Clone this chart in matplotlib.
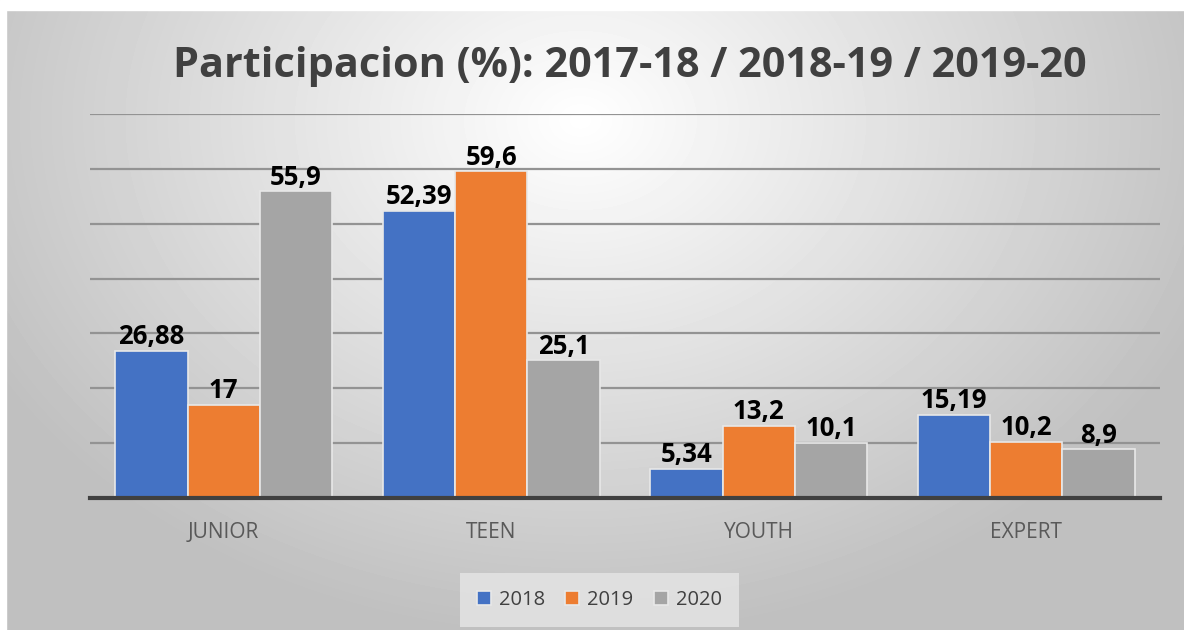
import numpy as np
import matplotlib.pyplot as plt

categories = ['JUNIOR', 'TEEN', 'YOUTH', 'EXPERT']
years = ['2018', '2019', '2020']
v2018 = [26.88, 52.39, 5.34, 15.19]
v2019 = [17, 59.6, 13.2, 10.2]
v2020 = [55.9, 25.1, 10.1, 8.9]
labels2018 = ['26,88', '52,39', '5,34', '15,19']
labels2019 = ['17', '59,6', '13,2', '10,2']
labels2020 = ['55,9', '25,1', '10,1', '8,9']
colors = ['#4472C4', '#ED7D31', '#A5A5A5']

plt.rcParams['font.family'] = ['Open Sans', 'DejaVu Sans']

fig = plt.figure(figsize=(11.84, 6.3), dpi=100)

# radial grey background
bg = fig.add_axes([0, 0, 1, 1], zorder=-10)
yy, xx = np.mgrid[0:630, 0:1184]
r = np.sqrt(((xx - 580) / 650.0) ** 2 + ((yy - 120) / 500.0) ** 2)
shade = np.clip(1.0 - 0.24 * r, 0.75, 1.0)
bg.imshow(shade, cmap='gray', vmin=0, vmax=1, extent=[0, 1184, 630, 0], aspect='auto')
bg.add_patch(plt.Rectangle((0, 0), 1184, 10, color='white'))
bg.add_patch(plt.Rectangle((0, 0), 6, 630, color='white'))
bg.set_xlim(0, 1184)
bg.set_ylim(630, 0)
bg.axis('off')

ax = fig.add_axes([90 / 1184, 132 / 630, 1070 / 1184, 384 / 630])
ax.patch.set_alpha(0)

x = np.arange(len(categories))
w = 0.27
series = [v2018, v2019, v2020]
texts = [labels2018, labels2019, labels2020]
for i, (vals, labs) in enumerate(zip(series, texts)):
    pos = x + (i - 1) * w
    ax.bar(pos, vals, w, color=colors[i], edgecolor='#e8e8e8', linewidth=1.2,
           label=years[i], zorder=3)
    for p, v, t in zip(pos, vals, labs):
        ax.text(p, v + 0.1, t, ha='center', va='bottom', fontsize=18.5,
                fontweight='bold', color='black', zorder=4)

ax.set_xlim(-0.5, 3.5)
ax.set_ylim(0, 70)
ax.set_yticks(np.arange(10, 71, 10))
ax.yaxis.grid(True, color='#939393', linewidth=1.6, zorder=0)
ax.set_yticklabels([])
ax.tick_params(axis='y', length=0)
ax.tick_params(axis='x', length=0, pad=17, labelsize=15, labelcolor='#595959')
ax.set_xticks(x)
ax.set_xticklabels(categories)
for s in ['top', 'right', 'left']:
    ax.spines[s].set_visible(False)
ax.spines['bottom'].set_color('#404040')
ax.spines['bottom'].set_linewidth(3)
ax.spines['bottom'].set_zorder(5)

fig.text(0.532, 0.895, 'Participacion (%): 2017-18 / 2018-19 / 2019-20',
         ha='center', va='center', fontsize=29.8, fontweight='bold', color='#404040')

leg = ax.legend(loc='center', bbox_to_anchor=(0.476, -0.265), ncol=3, frameon=True,
                fontsize=14.5, handlelength=0.7, handleheight=0.7, columnspacing=1.0,
                handletextpad=0.4, borderpad=0.55, borderaxespad=0)
leg.get_frame().set_facecolor('#e6e6e6')
leg.get_frame().set_edgecolor('none')
leg.get_frame().set_boxstyle('square')
for t in leg.get_texts():
    t.set_color('#404040')

fig.savefig('out.png', dpi=100)
